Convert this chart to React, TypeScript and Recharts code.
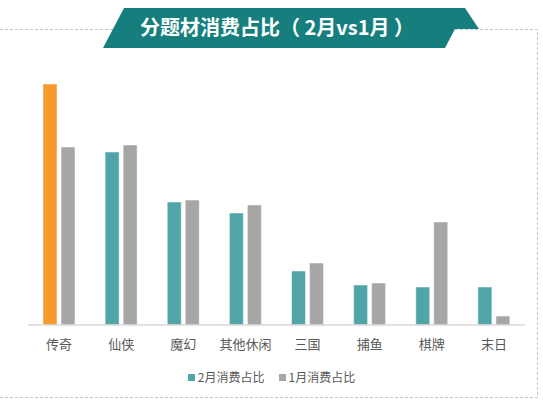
import { BarChart, Bar, XAxis, YAxis, Cell } from 'recharts';

const categories = ['传奇', '仙侠', '魔幻', '其他休闲', '三国', '捕鱼', '棋牌', '末日'];
const febShare = [24.1, 17.3, 12.3, 11.2, 5.4, 4.0, 3.8, 3.8];
const janShare = [17.8, 18.0, 12.5, 12.0, 6.2, 4.2, 10.3, 0.9];
const seriesNames = ['2月消费占比', '1月消费占比'];

const TEAL = '#52A5A6';
const GRAY = '#A6A6A6';
const ORANGE = '#F7992B';
const FONT = "'Noto Sans CJK SC', 'Noto Sans', sans-serif";

const data = categories.map((name, i) => ({ name, feb: febShare[i], jan: janShare[i] }));

export default function App() {
  return (
    <div style={{ position: 'absolute', left: 0, top: 0, width: 543, height: 400, background: '#fff', fontFamily: FONT }}>
      <svg width={543} height={400} style={{ position: 'absolute', left: 0, top: 0 }}>
        <path d="M0 29.5 H537.5 V397.5 H0" fill="none" stroke="#C4C4C4" strokeDasharray="3 2" />
      </svg>
      <div style={{ position: 'absolute', left: 0, top: 0 }}>
        <BarChart width={543} height={400} data={data} margin={{ top: 60, right: 18, bottom: 45, left: 28 }}
          barGap={4} barSize={14}>
          <XAxis dataKey="name" axisLine={{ stroke: '#D9D9D9', strokeWidth: 1.5 }} tickLine={false}
            tickMargin={9} interval={0}
            tick={{ fontSize: 13, fill: '#595959', fontFamily: FONT }} />
          <YAxis hide domain={[0, 26.5]} />
          <Bar dataKey="feb" name={seriesNames[0]} fill={TEAL} stroke="#fff" strokeWidth={0.5} isAnimationActive={false}>
            {data.map((d, i) => (
              <Cell key={d.name} fill={i === 0 ? ORANGE : TEAL} />
            ))}
          </Bar>
          <Bar dataKey="jan" name={seriesNames[1]} fill={GRAY} stroke="#fff" strokeWidth={0.5} isAnimationActive={false} />
        </BarChart>
      </div>
      <div style={{ position: 'absolute', left: 0, top: 368, width: 543, display: 'flex', justifyContent: 'center',
        gap: 14, fontSize: 12, color: '#595959', lineHeight: '18px' }}>
        {seriesNames.map((s, i) => (
          <span key={s} style={{ display: 'flex', alignItems: 'center', gap: 3 }}>
            <span style={{ width: 7, height: 7, background: i === 0 ? TEAL : GRAY, display: 'inline-block' }} />
            {s}
          </span>
        ))}
      </div>
      <svg width={543} height={60} style={{ position: 'absolute', left: 0, top: 0 }}>
        <polygon points="124,8 465,8 479,29 455,29 445,48 103,48" fill="#167F7E" />
        <text x={277} y={35} textAnchor="middle" fill="#fff" fontSize={20} fontWeight="bold" fontFamily={FONT}>
          分题材消费占比（ 2月vs1月 ）
        </text>
      </svg>
    </div>
  );
}
